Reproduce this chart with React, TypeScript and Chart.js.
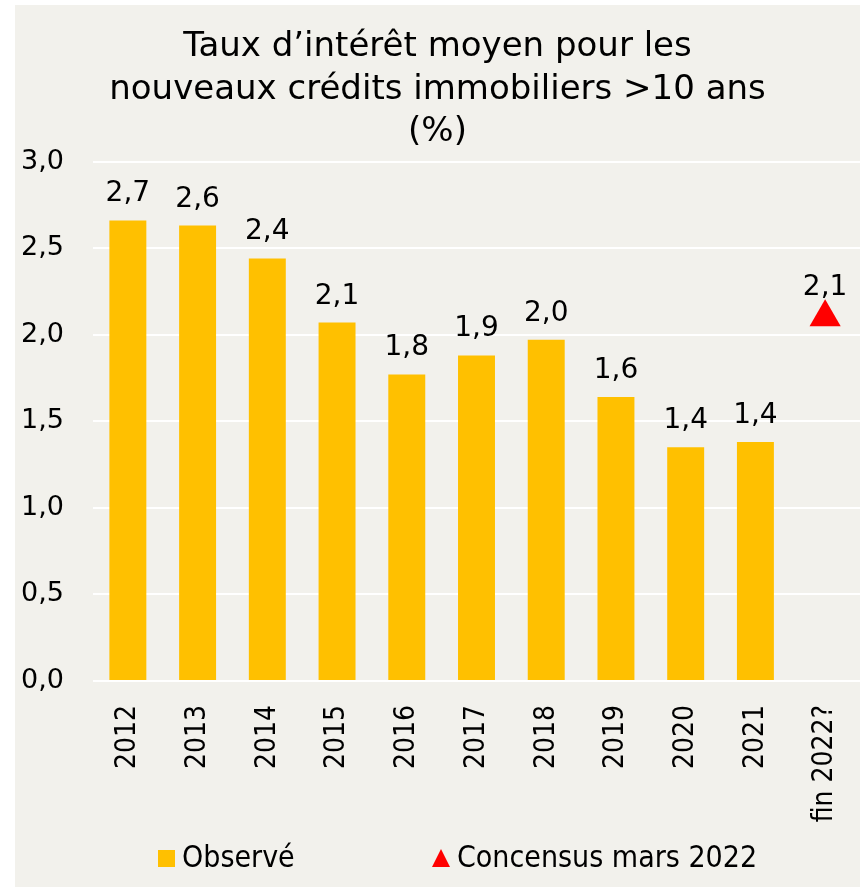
import React, { useEffect, useRef } from "react";
import { Chart, registerables } from "chart.js";

Chart.register(...registerables);

const titleLines = ["Taux d\u2019intérêt moyen pour les", "nouveaux crédits immobiliers >10 ans", "(%)"];
const categories = ["2012", "2013", "2014", "2015", "2016", "2017", "2018", "2019", "2020", "2021", "fin 2022?"];
const observed = [2.66, 2.63, 2.44, 2.07, 1.77, 1.88, 1.97, 1.64, 1.35, 1.38, null];
const observedLabels = ["2,7", "2,6", "2,4", "2,1", "1,8", "1,9", "2,0", "1,6", "1,4", "1,4", ""];
const consensus = [null, null, null, null, null, null, null, null, null, null, 2.1];
const consensusLabels = ["", "", "", "", "", "", "", "", "", "", "2,1"];
const seriesNames = ["Observé", "Concensus mars 2022"];
const yMin = 0;
const yMax = 3;
const yStep = 0.5;

const BAR_COLOR = "#FFC000";
const TRI_COLOR = "#FF0000";
const BG = "#F2F1EC";
const FONT = "'DejaVu Sans', Verdana, sans-serif";
const FONT_COND = "'DejaVu Sans Condensed', 'DejaVu Sans', sans-serif";

const dataLabelPlugin = {
  id: "dataLabels",
  afterDatasetsDraw(chart: any) {
    const ctx = chart.ctx;
    ctx.save();
    ctx.fillStyle = "#000";
    ctx.font = `28px ${FONT}`;
    ctx.textAlign = "center";
    ctx.textBaseline = "alphabetic";
    chart.data.datasets.forEach((ds: any, di: number) => {
      const meta = chart.getDatasetMeta(di);
      const labels = di === 0 ? observedLabels : consensusLabels;
      meta.data.forEach((el: any, i: number) => {
        const v = ds.data[i];
        if (v === null || v === undefined) return;
        const off = di === 0 ? 19 : 22;
        ctx.fillText(labels[i], el.x, el.y - off);
      });
    });
    ctx.restore();
  },
};

const legendPlugin = {
  id: "customLegend",
  afterDraw(chart: any) {
    const ctx = chart.ctx;
    const h = chart.height;
    const cy = h - 29;
    ctx.save();
    ctx.font = `30px ${FONT_COND}`;
    ctx.textBaseline = "middle";
    ctx.textAlign = "left";
    ctx.fillStyle = BAR_COLOR;
    ctx.fillRect(143, cy - 8, 17, 17);
    ctx.fillStyle = "#000";
    ctx.fillText(seriesNames[0], 167, cy + 1);
    ctx.fillStyle = TRI_COLOR;
    ctx.beginPath();
    ctx.moveTo(426, cy - 9);
    ctx.lineTo(435, cy + 9);
    ctx.lineTo(417, cy + 9);
    ctx.closePath();
    ctx.fill();
    ctx.fillStyle = "#000";
    ctx.fillText(seriesNames[1], 442, cy + 1);
    ctx.restore();
  },
};

export default function App() {
  const ref = useRef<HTMLCanvasElement | null>(null);
  useEffect(() => {
    if (!ref.current) return;
    const chart = new Chart(ref.current, {
      type: "bar",
      data: {
        labels: categories,
        datasets: [
          {
            type: "bar",
            label: seriesNames[0],
            data: observed as any,
            backgroundColor: BAR_COLOR,
            borderWidth: 0,
            barPercentage: 0.53,
            categoryPercentage: 1,
            order: 2,
          },
          {
            type: "line",
            label: seriesNames[1],
            data: consensus as any,
            showLine: false,
            pointStyle: "triangle",
            pointRadius: 18,
            pointHoverRadius: 18,
            backgroundColor: TRI_COLOR,
            borderColor: TRI_COLOR,
            borderWidth: 0,
            order: 1,
          } as any,
        ],
      },
      options: {
        animation: false,
        responsive: true,
        maintainAspectRatio: false,
        layout: { autoPadding: false, padding: { left: 0, right: 0, top: 0, bottom: 51 } },
        plugins: {
          legend: { display: false },
          tooltip: { enabled: false },
          title: {
            display: true,
            text: titleLines,
            color: "#000",
            font: { family: FONT, size: 34, weight: "normal", lineHeight: 1.25 },
            padding: { top: 21, bottom: 8 },
          },
        },
        scales: {
          x: {
            grid: { display: false, drawTicks: false },
            border: { display: false },
            ticks: {
              color: "#000",
              font: { family: FONT_COND, size: 28 },
              maxRotation: 90,
              minRotation: 90,
              padding: 24,
              autoSkip: false,
            },
            afterFit(scale: any) {
              scale.height = 155;
              scale.paddingLeft = 0;
              scale.paddingRight = 0;
            },
          },
          y: {
            min: yMin,
            max: yMax,
            grid: { color: "#FFFFFF", lineWidth: 2, drawTicks: false },
            border: { display: false },
            ticks: {
              stepSize: yStep,
              color: "#000",
              padding: 29,
              font: { family: FONT, size: 27 },
              callback: (v: any) => Number(v).toFixed(1).replace(".", ","),
            },
            afterFit(scale: any) {
              scale.width = 78;
            },
          },
        },
      },
      plugins: [dataLabelPlugin, legendPlugin],
    });
    return () => chart.destroy();
  }, []);
  return (
    <div
      style={{
        position: "absolute",
        left: 15,
        top: 5,
        width: 845,
        height: 882,
        background: BG,
      }}
    >
      <canvas ref={ref} />
    </div>
  );
}
